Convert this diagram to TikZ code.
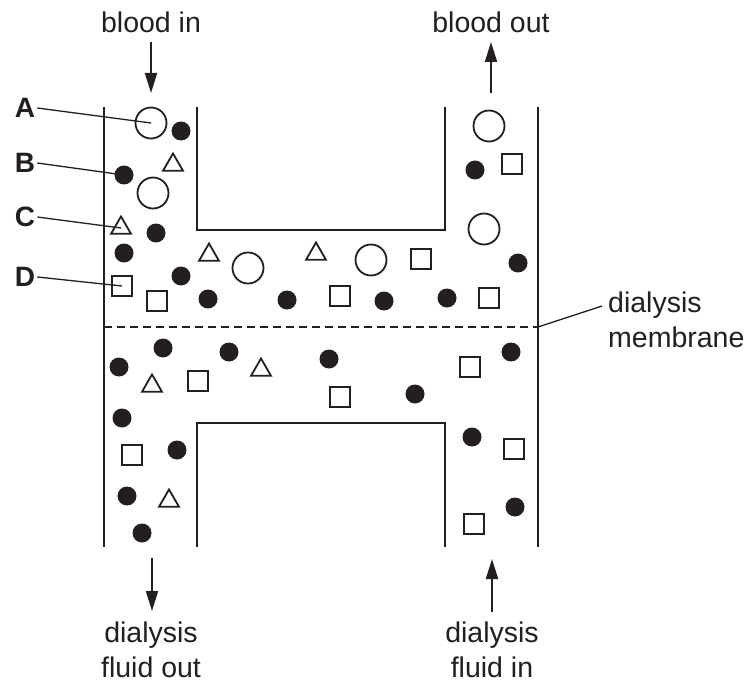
\documentclass[tikz,border=0pt]{standalone}
\usepackage{fontspec}
\setmainfont{Liberation Sans}
\usetikzlibrary{shapes.geometric,arrows.meta}
\definecolor{ink}{RGB}{35,31,32}
\tikzset{
  wall/.style={draw=ink,line width=2.8pt},
  bigc/.style={circle,draw=ink,line width=1.8pt,minimum size=31pt,inner sep=0pt},
  dotc/.style={circle,fill=ink,minimum size=19pt,inner sep=0pt},
  sqr/.style={rectangle,draw=ink,line width=1.8pt,minimum size=20pt,inner sep=0pt},
  tri/.style={regular polygon,regular polygon sides=3,draw=ink,line width=1.8pt,minimum size=23pt,inner sep=0pt,yshift=-3pt},
  txt/.style={text=ink,font=\fontsize{28.5}{35}\selectfont,inner sep=0pt,anchor=base},
  lab/.style={text=ink,font=\fontsize{28}{34}\selectfont\bfseries,inner sep=2pt},
  lead/.style={draw=ink,line width=1.3pt},
  flow/.style={draw=ink,line width=2pt,-{Triangle[length=20pt,width=12pt]}}
}
\begin{document}
\begin{tikzpicture}[x=1pt,y=-1pt]
\useasboundingbox (0,0) rectangle (750,682);
% walls
\draw[wall] (104,107) -- (104,547);
\draw[wall] (538,107) -- (538,547);
\draw[wall] (197,107) -- (197,230) -- (445,230) -- (445,107);
\draw[wall] (197,547) -- (197,423) -- (445,423) -- (445,547);
% membrane
\coordinate (mL) at (104,327);
\coordinate (mR) at (538,327);
\draw[draw=ink,line width=1.8pt,dash pattern=on 8pt off 5pt] (mL) -- (mR);
% upper particles
\node[bigc] (pA) at (151,123) {};
\node[dotc] (u1) at (181,131) {};
\node[tri]  (u2) at (173,162) {};
\node[dotc] (pB) at (124,175) {};
\node[bigc] (u3) at (153,193) {};
\node[tri]  (pC) at (121,225) {};
\node[dotc] (u4) at (156,233) {};
\node[dotc] (u5) at (124,253) {};
\node[tri]  (u6) at (209,252) {};
\node[sqr]  (pD) at (122,286) {};
\node[dotc] (u7) at (181,276) {};
\node[sqr]  (u8) at (157,301) {};
\node[dotc] (u9) at (208,299) {};
\node[bigc] (u10) at (248,268) {};
\node[tri]  (u11) at (316,251) {};
\node[bigc] (u12) at (371,260) {};
\node[sqr]  (u13) at (421,259) {};
\node[dotc] (u14) at (287,300) {};
\node[sqr]  (u15) at (340,296) {};
\node[dotc] (u16) at (384,301) {};
\node[dotc] (u17) at (447,298) {};
\node[sqr]  (u18) at (489,298) {};
\node[bigc] (u19) at (489,126) {};
\node[dotc] (u20) at (475,170) {};
\node[sqr]  (u21) at (512,164) {};
\node[bigc] (u22) at (484,229) {};
\node[dotc] (u23) at (518,263) {};
% lower particles
\node[dotc] (d1) at (119,367) {};
\node[dotc] (d2) at (163,348) {};
\node[tri]  (d3) at (152,383) {};
\node[sqr]  (d4) at (198,381) {};
\node[dotc] (d5) at (229,352) {};
\node[tri]  (d6) at (261,367) {};
\node[dotc] (d7) at (329,359) {};
\node[sqr]  (d8) at (340,397) {};
\node[dotc] (d9) at (415,394) {};
\node[sqr]  (d10) at (470,367) {};
\node[dotc] (d11) at (511,352) {};
\node[dotc] (d12) at (122,418) {};
\node[sqr]  (d13) at (132,455) {};
\node[dotc] (d14) at (177,450) {};
\node[dotc] (d15) at (127,496) {};
\node[tri]  (d16) at (169,498) {};
\node[dotc] (d17) at (142,533) {};
\node[dotc] (d18) at (472,437) {};
\node[sqr]  (d19) at (514,449) {};
\node[dotc] (d20) at (515,507) {};
\node[sqr]  (d21) at (474,524) {};
% labels A-D
\node[lab] (lA) at (25,108) {A};
\node[lab] (lB) at (25,163) {B};
\node[lab] (lC) at (25,217) {C};
\node[lab] (lD) at (25,277) {D};
\draw[lead] (lA.east) -- (pA.center);
\draw[lead] (lB.east) -- (pB.center);
\draw[lead] (lC.east) -- (pC.center);
\draw[lead] (lD.east) -- (pD.center);
% membrane label
\node[txt,anchor=base west] (mem1) at (608,312) {dialysis};
\node[txt,anchor=base west] (mem2) at (608,347) {membrane};
\coordinate (memend) at (602,306);
\draw[lead] (mR) -- (memend);
% flow labels and arrows
\node[txt] (bin) at (151,33) {blood in};
\node[txt] (bout) at (491,33) {blood out};
\coordinate (bin1) at (151,42);
\coordinate (bin2) at (151,93);
\coordinate (bout1) at (491,93);
\coordinate (bout2) at (491,42);
\draw[flow] (bin1) -- (bin2);
\draw[flow] (bout1) -- (bout2);
\node[txt] (fo1) at (151,642) {dialysis};
\node[txt] (fo2) at (151,677) {fluid out};
\node[txt] (fi1) at (492,642) {dialysis};
\node[txt] (fi2) at (492,677) {fluid in};
\coordinate (fo3) at (152,558);
\coordinate (fo4) at (152,611);
\coordinate (fi3) at (492,612);
\coordinate (fi4) at (492,559);
\draw[flow] (fo3) -- (fo4);
\draw[flow] (fi3) -- (fi4);
\end{tikzpicture}
\end{document}
